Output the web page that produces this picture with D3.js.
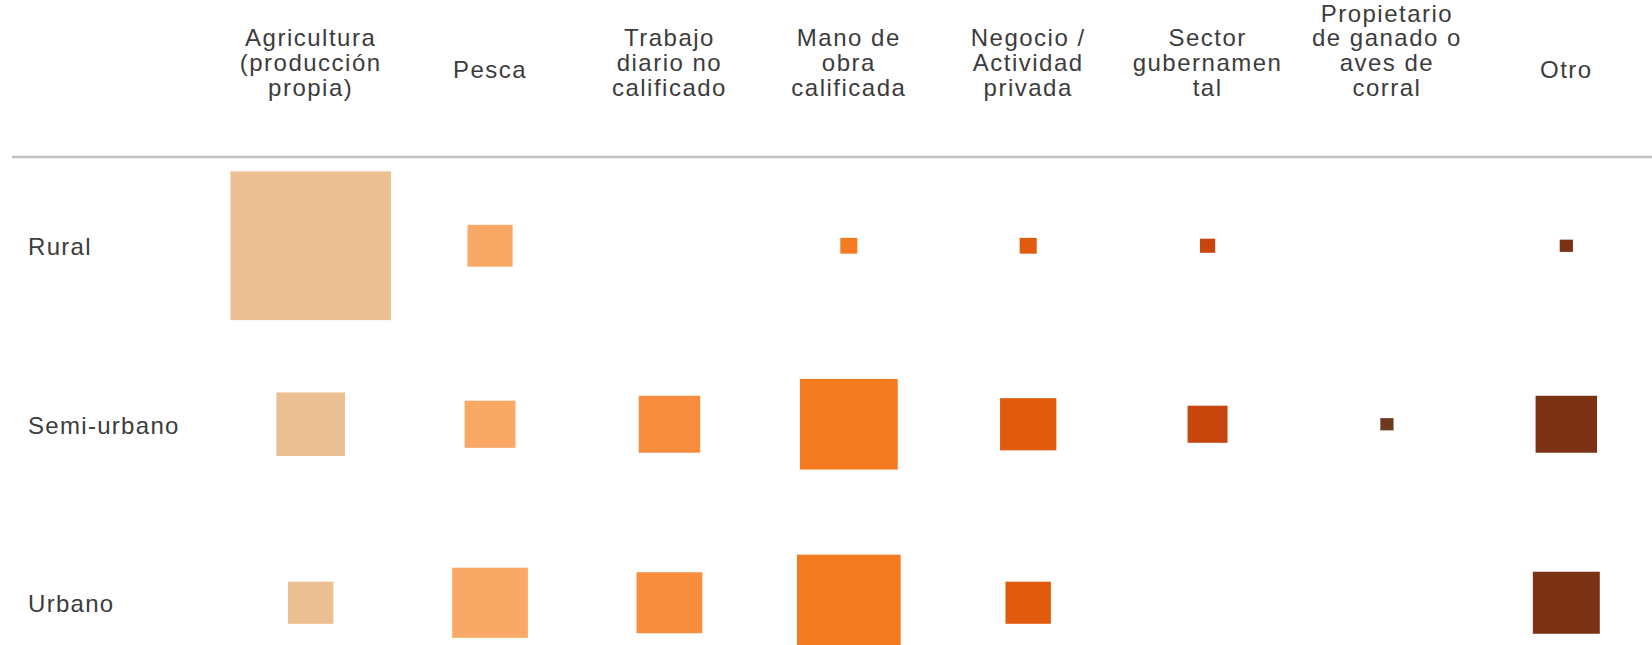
<!DOCTYPE html>
<html>
<head>
<meta charset="utf-8">
<script src="https://cdn.jsdelivr.net/npm/d3@7"></script>
<style>
  html, body { margin: 0; padding: 0; background: #ffffff; overflow: hidden; }
  svg { display: block; }
  text { font-family: "Liberation Sans", Arial, sans-serif; fill: #3c3c3c; }
</style>
</head>
<body>
<svg id="chart" width="1652" height="645"></svg>
<script>
// ---- data ----
const categories = [
  "Agricultura (producción propia)",
  "Pesca",
  "Trabajo diario no calificado",
  "Mano de obra calificada",
  "Negocio / Actividad privada",
  "Sector gubernamental",
  "Propietario de ganado o aves de corral",
  "Otro"
];
const categoryLines = [
  ["Agricultura", "(producción", "propia)"],
  ["Pesca"],
  ["Trabajo", "diario no", "calificado"],
  ["Mano de", "obra", "calificada"],
  ["Negocio /", "Actividad", "privada"],
  ["Sector", "gubernamen", "tal"],
  ["Propietario", "de ganado o", "aves de", "corral"],
  ["Otro"]
];
const areas = ["Rural", "Semi-urbano", "Urbano"];
// share of households (%) by main livelihood, per area type
const ruralValues     = [88.6, 7.0, 0,    1.0,  1.0,  0.8, 0,   0.6];
const semiUrbanValues = [16.2, 8.9, 13.0, 32.9, 10.9, 5.5, 0.6, 13.0];
const urbanValues     = [7.1, 19.7, 14.9, 37.0, 7.1,  0,   0,   15.4];
const colors = ["#EDC094", "#F9A865", "#F88D3E", "#F37A20", "#E15B0E", "#C8460B", "#6E3A1E", "#7A3114"];

const seriesByArea = [ruralValues, semiUrbanValues, urbanValues];

// ---- layout ----
const svg = d3.select("#chart");
const W = 1652, H = 645;

const x = d3.scaleBand().domain(categories).range([221, 1656]).padding(0);
const y = d3.scaleBand().domain(areas).range([156.5, 692]).padding(0);
const sideH = d3.scaleSqrt().domain([0, 100]).range([0, 158]);
const sideW = d3.scaleSqrt().domain([0, 100]).range([0, 170.5]);
const color = d3.scaleOrdinal().domain(categories).range(colors);

// header line
svg.append("line")
  .attr("x1", 12).attr("x2", W)
  .attr("y1", 157).attr("y2", 157)
  .attr("stroke", "#c2c2c2")
  .attr("stroke-width", 2.5);

// column headers
const lh = 24.8;
const lastBaseline = 96;
const singleBaseline = 78;
const hdr = svg.append("g").attr("class", "headers");
categories.forEach((c, i) => {
  const lines = categoryLines[i];
  const n = lines.length;
  const t = hdr.append("text")
    .attr("text-anchor", "middle")
    .attr("font-size", 24)
    .attr("letter-spacing", "1.5px");
  lines.forEach((ln, j) => {
    t.append("tspan")
      .attr("x", x(c) + x.bandwidth() / 2)
      .attr("y", n === 1 ? singleBaseline : lastBaseline - (n - 1 - j) * lh)
      .text(ln);
  });
});

// row labels
svg.append("g").selectAll("text")
  .data(areas)
  .join("text")
  .attr("x", 28)
  .attr("y", d => y(d) + y.bandwidth() / 2 + 9.5)
  .attr("font-size", 24)
  .attr("letter-spacing", "1.3px")
  .text(d => d);

// squares
const cells = [];
areas.forEach((a, r) => {
  categories.forEach((c, k) => {
    const v = seriesByArea[r][k];
    if (v > 0) cells.push({ area: a, cat: c, value: v });
  });
});

svg.append("g").selectAll("rect")
  .data(cells)
  .join("rect")
  .attr("x", d => x(d.cat) + x.bandwidth() / 2 - sideW(d.value) / 2)
  .attr("y", d => y(d.area) + y.bandwidth() / 2 - sideH(d.value) / 2)
  .attr("width", d => sideW(d.value))
  .attr("height", d => sideH(d.value))
  .attr("fill", d => color(d.cat));
</script>
</body>
</html>
